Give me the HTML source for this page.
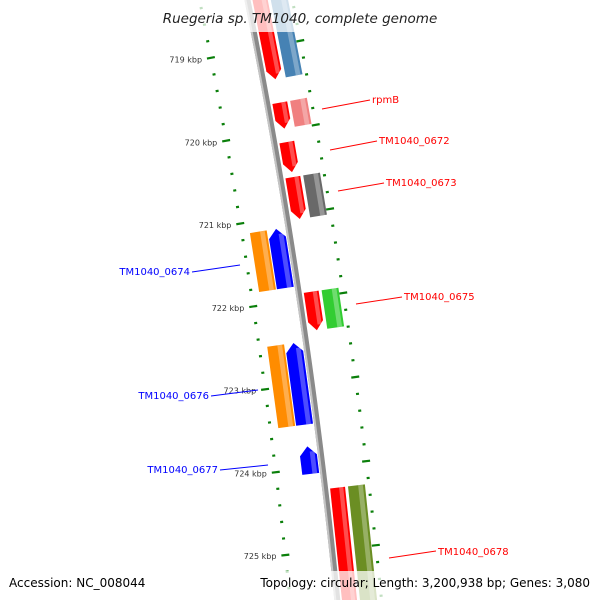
<!DOCTYPE html>
<html><head><meta charset="utf-8">
<style>
html,body{margin:0;padding:0;background:#fff;width:600px;height:600px;overflow:hidden;}
svg{display:block;overflow:hidden;font-family:"DejaVu Sans","Liberation Sans",sans-serif;}
</style></head>
<body>
<svg id="map" width="600" height="600" viewBox="0 0 600 600" xmlns="http://www.w3.org/2000/svg">
<defs><clipPath id="frame"><rect x="0" y="0" width="600" height="600"/></clipPath></defs>
<g clip-path="url(#frame)">
<g id="backbone-layer"></g>
<g id="tick-layer"></g>
<g id="feature-layer"></g>
<g id="label-layer">
  <line x1="322" y1="109" x2="370" y2="100" stroke="#f00" stroke-width="1"/>
  <text x="372" y="103" font-size="10" fill="#f00">rpmB</text>
  <line x1="330" y1="150" x2="377" y2="141" stroke="#f00" stroke-width="1"/>
  <text x="379" y="144" font-size="10" fill="#f00">TM1040_0672</text>
  <line x1="338" y1="191" x2="384" y2="183" stroke="#f00" stroke-width="1"/>
  <text x="386" y="186" font-size="10" fill="#f00">TM1040_0673</text>
  <line x1="356" y1="304" x2="402" y2="297" stroke="#f00" stroke-width="1"/>
  <text x="404" y="300" font-size="10" fill="#f00">TM1040_0675</text>
  <line x1="389" y1="558" x2="436" y2="551" stroke="#f00" stroke-width="1"/>
  <text x="438" y="555" font-size="10" fill="#f00">TM1040_0678</text>
  <line x1="192" y1="272" x2="240" y2="265" stroke="#00f" stroke-width="1"/>
  <text x="190" y="275" font-size="10" fill="#00f" text-anchor="end">TM1040_0674</text>
  <line x1="211" y1="396" x2="258" y2="390" stroke="#00f" stroke-width="1"/>
  <text x="209" y="399" font-size="10" fill="#00f" text-anchor="end">TM1040_0676</text>
  <line x1="220" y1="470" x2="268" y2="465" stroke="#00f" stroke-width="1"/>
  <text x="218" y="473" font-size="10" fill="#00f" text-anchor="end">TM1040_0677</text>
</g>
<rect x="0" y="0" width="600" height="32" fill="#fff" fill-opacity="0.75"/>
<rect x="0" y="571" width="600" height="29" fill="#fff" fill-opacity="0.75"/>
<text x="300" y="23" font-size="13.5" font-style="italic" fill="#222" text-anchor="middle">Ruegeria sp. TM1040, complete genome</text>
<text x="9" y="587" font-size="12" fill="#000">Accession: NC_008044</text>
<text x="590" y="587" font-size="12" fill="#000" text-anchor="end">Topology: circular; Length: 3,200,938 bp; Genes: 3,080</text>
</g>
</svg>
<script>
// ---- data ----
const tickMajorKbp = [718, 719, 720, 721, 722, 723, 724, 725, 726];
const tickLabels = ["718 kbp","719 kbp","720 kbp","721 kbp","722 kbp","723 kbp","724 kbp","725 kbp","726 kbp"];
const geneNames  = ["TM1040_0670","rpmB","TM1040_0672","TM1040_0673","TM1040_0674","TM1040_0675","TM1040_0676","TM1040_0677","TM1040_0678"];
const geneStart  = [718.2, 719.67, 720.14, 720.56, 721.13, 721.93, 722.50, 723.74, 724.27];
const geneEnd    = [719.39, 719.98, 720.50, 721.06, 721.84, 722.39, 723.48, 724.07, 726.2];
const geneStrand = [1, 1, 1, 1, -1, 1, -1, -1, 1];
const cogColor   = ["#4682b4","#f08080","#e0e0e0","#696969","#ff8c00","#32cd32","#ff8c00",null,"#6b8e23"];
const hasCog     = [true, true, false, true, true, true, true, false, true];

// ---- geometry ----
const svgNS = "http://www.w3.org/2000/svg";
function sOf(kbp){ return 49 + (kbp - 719) * 83.5; }
function bx(s){ return 247.5 + 0.1989*s - 8.2e-5*s*s; }
function slope(s){ return 0.1989 - 1.64e-4*s; }
function pt(s, d){
  const m = slope(s), n = Math.sqrt(1+m*m);
  return [bx(s) + d/n, s - d*m/n];
}
function poly(points){ return points.map(p=>p[0].toFixed(2)+","+p[1].toFixed(2)).join(" "); }

const bb = document.getElementById("backbone-layer");
function bbLine(d1, d2, color){
  const pts=[];
  for(let s=-20;s<=620;s+=10) pts.push(pt(s,d1));
  for(let s=620;s>=-20;s-=10) pts.push(pt(s,d2));
  const p=document.createElementNS(svgNS,"polygon");
  p.setAttribute("points",poly(pts)); p.setAttribute("fill",color);
  
  
  bb.appendChild(p);
}
bbLine(-3,3,"#8a8a8a");
bbLine(-3,-1,"#c4c4c4");

const tk = document.getElementById("tick-layer");
function seg(s, d1, d2, w){
  const a=pt(s,d1), b=pt(s,d2);
  const l=document.createElementNS(svgNS,"line");
  l.setAttribute("x1",a[0]);l.setAttribute("y1",a[1]);l.setAttribute("x2",b[0]);l.setAttribute("y2",b[1]);
  l.setAttribute("stroke","#0a7f0a"); l.setAttribute("stroke-width",w);
  
  
  tk.appendChild(l);
}
for(let i=0;i<tickMajorKbp.length;i++){
  const k=tickMajorKbp[i];
  seg(sOf(k),-51,-43,2.2); seg(sOf(k),40,48,2.2);
  for(let j=1;j<5;j++){ const s=sOf(k+j*0.2); seg(s,-48.5,-45.5,2.2); seg(s,42.5,45.5,2.2); }
  const lp=pt(sOf(k),-56);
  const t=document.createElementNS(svgNS,"text");
  t.setAttribute("x",lp[0]); t.setAttribute("y",lp[1]+3);
  t.setAttribute("text-anchor","end"); t.setAttribute("font-size","8"); t.setAttribute("fill","#333");
  t.textContent=tickLabels[i];
  
  
  tk.appendChild(t);
}

const fl = document.getElementById("feature-layer");
function feature(s0, s1, dA, dB, color, arrow, name){
  const head=9, mid=(dA+dB)/2, pts=[];
  if(arrow===1){
    pts.push(pt(s0,dA),pt(s1-head,dA),pt(s1,mid),pt(s1-head,dB),pt(s0,dB));
  } else if(arrow===-1){
    pts.push(pt(s1,dA),pt(s0+head,dA),pt(s0,mid),pt(s0+head,dB),pt(s1,dB));
  } else {
    pts.push(pt(s0,dA),pt(s1,dA),pt(s1,dB),pt(s0,dB));
  }
  const g=document.createElementNS(svgNS,"g");
  
  
  const p=document.createElementNS(svgNS,"polygon");
  p.setAttribute("points",poly(pts)); p.setAttribute("fill",color);
  
  
  g.appendChild(p);
  const w=dB-dA, h1=dA+w*0.6, h2=dA+w*0.88;
  const a0 = arrow===-1 ? s0+head*0.6 : s0;
  const a1 = arrow===1 ? s1-head*0.6 : s1;
  const q=document.createElementNS(svgNS,"polygon");
  q.setAttribute("points",poly([pt(a0,h1),pt(a1,h1),pt(a1,h2),pt(a0,h2)]));
  q.setAttribute("fill","#fff"); q.setAttribute("fill-opacity","0.3");
  
  
  g.appendChild(q);
  fl.appendChild(g);
}
for(let i=0;i<geneNames.length;i++){
  const s0=sOf(geneStart[i]), s1=sOf(geneEnd[i]);
  const key=geneNames[i].toLowerCase().replace(/_/g,"-");
  if(geneStrand[i]===1){
    feature(s0,s1,5,20,"#ff0000",1,key+"-cds");
    if(hasCog[i]) feature(s0,s1,23,40,cogColor[i],0,key+"-cog");
  } else {
    feature(s0,s1,-21,-4,"#0000ff",-1,key+"-cds");
    if(hasCog[i]) feature(s0,s1,-39,-22,cogColor[i],0,key+"-cog");
  }
}
</script>
</body></html>
